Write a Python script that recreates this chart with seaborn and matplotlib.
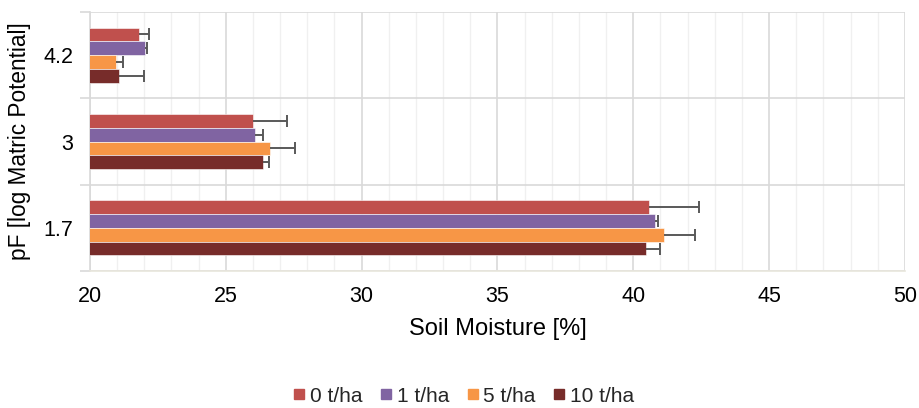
import matplotlib
matplotlib.use("Agg")
import matplotlib.pyplot as plt
import seaborn as sns
import pandas as pd
import numpy as np
from matplotlib.lines import Line2D
from matplotlib.ticker import MultipleLocator

categories = ["4.2", "3", "1.7"]
treatments = ["0 t/ha", "1 t/ha", "5 t/ha", "10 t/ha"]
vals_0 = [21.8, 26.0, 40.57]
vals_1 = [22.04, 26.06, 40.78]
vals_5 = [20.94, 26.63, 41.13]
vals_10 = [21.07, 26.38, 40.47]
err_0 = [0.37, 1.25, 1.83]
err_1 = [0.06, 0.31, 0.12]
err_5 = [0.29, 0.92, 1.15]
err_10 = [0.90, 0.20, 0.53]
colors = ["#C0504D", "#8064A2", "#F79646", "#772C2A"]

values = [vals_0, vals_1, vals_5, vals_10]
errors = [err_0, err_1, err_5, err_10]

rows = []
for t, vs, es in zip(treatments, values, errors):
    for c, v, e in zip(categories, vs, es):
        rows.append({"pF": c, "Treatment": t, "Moisture": v, "Err": e})
df = pd.DataFrame(rows)

sns.set_theme(style="white")
plt.rcParams["font.family"] = ["Liberation Sans", "DejaVu Sans"]

fig = plt.figure(figsize=(9.2, 4.08), dpi=100)
ax = fig.add_axes([90/920, 1-271/408, 815/920, 259/408])

sns.barplot(data=df, y="pF", x="Moisture", hue="Treatment", order=categories,
            hue_order=treatments, palette=colors, orient="h", width=0.64,
            errorbar=None, ax=ax, legend=False, zorder=3, saturation=1,
            edgecolor="#FFFFFF", linewidth=0.4)

# error bars (plus direction only)
for cont, t in zip(ax.containers, treatments):
    sub = df[df["Treatment"] == t].set_index("pF").loc[categories]
    for patch, (v, e) in zip(cont.patches, zip(sub["Moisture"], sub["Err"])):
        yc = patch.get_y() + patch.get_height() / 2
        ax.plot([v, v + e], [yc, yc], color="#595959", lw=1.4, zorder=4,
                solid_capstyle="butt")
        ax.plot([v + e], [yc], marker="|", color="#595959", markersize=9,
                markeredgewidth=1.4, zorder=4)

ax.set_xlim(20, 50)
ax.set_ylim(2.5, -0.5)
ax.xaxis.set_major_locator(MultipleLocator(5))
ax.xaxis.set_minor_locator(MultipleLocator(1))
ax.grid(which="major", axis="x", color="#D9D9D9", lw=1.2, zorder=0)
ax.grid(which="minor", axis="x", color="#F0F0F0", lw=1.0, zorder=0)
ax.set_yticks([0, 1, 2])
ax.set_yticklabels(categories)
ax.set_yticks([-0.5, 0.5, 1.5, 2.5], minor=True)
ax.grid(which="minor", axis="y", color="#D9D9D9", lw=1.2, zorder=0)
ax.tick_params(axis="y", which="major", length=0, pad=12, labelsize=15.5, labelcolor="#000000")
ax.tick_params(axis="y", which="minor", length=7, width=1.2, color="#D9D9D9", left=True)
ax.tick_params(axis="x", which="both", length=0, pad=11, labelsize=15.5, labelcolor="#000000")

for s in ["top", "right"]:
    ax.spines[s].set_visible(False)
ax.spines["left"].set_color("#D9D9D9")
ax.spines["left"].set_linewidth(1.2)
ax.spines["bottom"].set_color("#E8E6DC")
ax.spines["bottom"].set_linewidth(1.2)

ax.set_xlabel("Soil Moisture [%]", fontsize=17, labelpad=8, color="#000000")
ax.set_ylabel("pF [log Matric Potential]", fontsize=16.3, labelpad=9, color="#000000")

handles = [Line2D([0], [0], marker="s", color="none", markerfacecolor=c,
                  markeredgecolor=c, markersize=6.7) for c in colors]
fig.legend(handles, treatments, loc="center", bbox_to_anchor=(463/920, 1-396/408),
           ncol=4, frameon=False, fontsize=15, handletextpad=0.16,
           columnspacing=0.79, handlelength=0.7, borderpad=0, borderaxespad=0)

fig.savefig("out.png", dpi=100)
